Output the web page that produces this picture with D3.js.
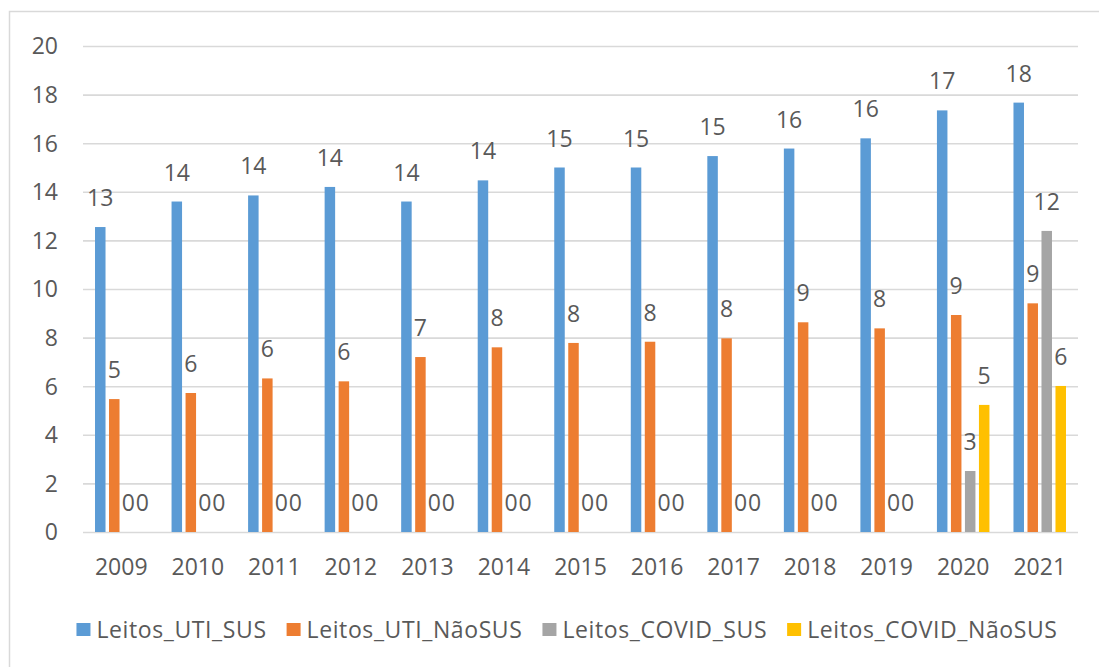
<!DOCTYPE html>
<html>
<head>
<meta charset="utf-8">
<script src="https://cdn.jsdelivr.net/npm/d3@7"></script>
<style>
  html, body { margin: 0; padding: 0; background: #fff; }
  svg text { font-family: "Open Sans", "Noto Sans", sans-serif; fill: #595959; }
</style>
</head>
<body>
<svg id="chart" width="1099" height="667"></svg>
<script>
// Leitos de UTI por ano (por 100 mil hab.)
const years = ["2009","2010","2011","2012","2013","2014","2015","2016","2017","2018","2019","2020","2021"];
const seriesNames = ["Leitos_UTI_SUS", "Leitos_UTI_NãoSUS", "Leitos_COVID_SUS", "Leitos_COVID_NãoSUS"];
const utiSUS     = [12.55, 13.6, 13.85, 14.2, 13.6, 14.47, 15.0, 15.0, 15.47, 15.78, 16.2, 17.35, 17.67];
const utiNaoSUS  = [5.47, 5.72, 6.32, 6.2, 7.2, 7.6, 7.78, 7.83, 7.97, 8.63, 8.38, 8.93, 9.41];
const covidSUS   = [0, 0, 0, 0, 0, 0, 0, 0, 0, 0, 0, 2.51, 12.39];
const covidNaoSUS= [0, 0, 0, 0, 0, 0, 0, 0, 0, 0, 0, 5.23, 6.01];
const yTicks = [0, 2, 4, 6, 8, 10, 12, 14, 16, 18, 20];
const colors = ["#5B9BD5", "#ED7D31", "#A5A5A5", "#FFC000"];

const seriesValues = [utiSUS, utiNaoSUS, covidSUS, covidNaoSUS];

const svg = d3.select("#chart");
const W = 1099, H = 667;
const plot = { left: 83, right: 1078, top: 46, bottom: 532 };

// chart area frame
svg.append("rect")
  .attr("x", 9.5).attr("y", 11.5)
  .attr("width", W + 20).attr("height", H + 20)
  .attr("fill", "#fff").attr("stroke", "#d9d9d9").attr("stroke-width", 1.5);

const x = d3.scaleBand().domain(years).range([plot.left, plot.right]).padding(0);
const y = d3.scaleLinear().domain([0, 20]).range([plot.bottom, plot.top]);

const groupW = x.bandwidth() * 0.686;
const x1 = d3.scaleBand().domain(seriesNames)
  .range([-groupW / 2, groupW / 2]).paddingInner(0.25);

// gridlines
const yAxis = d3.axisLeft(y).tickValues(yTicks).tickSize(-(plot.right - plot.left)).tickPadding(25).tickFormat(d3.format("d"));
const gy = svg.append("g").attr("transform", `translate(${plot.left},0)`).call(yAxis);
gy.select(".domain").remove();
gy.selectAll(".tick line").attr("stroke", "#d9d9d9").attr("stroke-width", 1.6);
gy.selectAll(".tick text").attr("font-size", 23).attr("fill", "#595959")
  .attr("font-family", "'Open Sans', sans-serif").attr("dy", "0.34em");

// x axis labels
const xAxis = d3.axisBottom(x).tickSize(0).tickPadding(27);
const gx = svg.append("g").attr("transform", `translate(0,${plot.bottom})`).call(xAxis);
gx.select(".domain").remove();
gx.selectAll(".tick text").attr("font-size", 23).attr("fill", "#595959")
  .attr("font-family", "'Open Sans', sans-serif");

// bars
const rows = [];
years.forEach((yr, i) => {
  seriesNames.forEach((s, j) => {
    rows.push({ year: yr, series: s, value: seriesValues[j][i], color: colors[j] });
  });
});

const fmt = d3.format(".0f");
const bars = svg.append("g");
bars.selectAll("rect").data(rows).join("rect")
  .attr("x", d => x(d.year) + x.bandwidth() / 2 + x1(d.series))
  .attr("y", d => y(d.value))
  .attr("width", x1.bandwidth())
  .attr("height", d => y(0) - y(d.value))
  .attr("fill", d => d.color);

// value labels
svg.append("g").selectAll("text").data(rows).join("text")
  .attr("x", d => x(d.year) + x.bandwidth() / 2 + x1(d.series) + x1.bandwidth() / 2)
  .attr("y", d => y(d.value) - 21)
  .attr("text-anchor", "middle")
  .attr("font-size", 23)
  .text(d => fmt(d.value));

// legend
const legend = svg.append("g");
const items = [];
seriesNames.forEach((s, j) => {
  const g = legend.append("g");
  g.append("rect").attr("x", 0).attr("y", -7).attr("width", 14).attr("height", 13).attr("fill", colors[j]);
  const t = g.append("text").attr("x", 20).attr("y", 0).attr("dy", "0.35em")
    .attr("font-size", 23).attr("letter-spacing", 0.6).text(s);
  const w = 20 + t.node().getComputedTextLength();
  items.push({ g, w });
});
const gap = 20;
const totalW = d3.sum(items, d => d.w) + gap * (items.length - 1);
let pos = 567 - totalW / 2;
items.forEach(it => { it.g.attr("transform", `translate(${pos},630)`); pos += it.w + gap; });
</script>
</body>
</html>
